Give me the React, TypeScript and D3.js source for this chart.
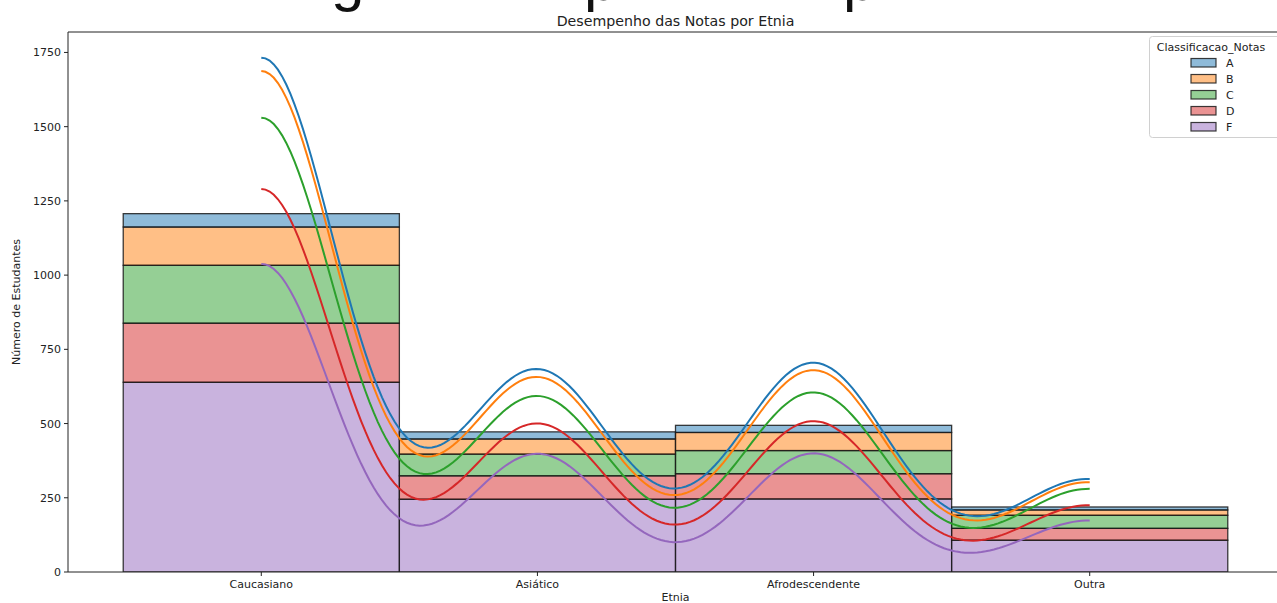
import React from "react";
import * as d3 from "d3";

// ---- data ----
const categories = ["Caucasiano", "Asiático", "Afrodescendente", "Outra"];
const grades = ["A", "B", "C", "D", "F"];
const countsA = [45, 24, 24, 10];
const countsB = [129, 51, 61, 18];
const countsC = [195, 73, 78, 44];
const countsD = [199, 79, 85, 40];
const countsF = [639, 245, 246, 107];
const yTicks = [0, 250, 500, 750, 1000, 1250, 1500, 1750];
const gradeColors = ["#1f77b4", "#ff7f0e", "#2ca02c", "#d62728", "#9467bd"];

const W = 1277;
const H = 603;
const M = { left: 68, right: 1283, top: 32, bottom: 572 };
const FONT = "DejaVu Sans";

// gaussian KDE (Scott's rule), scaled to counts -- same statistic as seaborn histplot(kde=True)
function kde(counts: number[]) {
  const n = d3.sum(counts);
  const mean = d3.sum(counts, (c, i) => c * i) / n;
  const variance = d3.sum(counts, (c, i) => c * (i - mean) ** 2) / (n - 1);
  const bw = Math.pow(n, -0.2) * Math.sqrt(variance);
  const norm = bw * Math.sqrt(2 * Math.PI);
  return (v: number) =>
    d3.sum(counts, (c, i) => (c * Math.exp(-0.5 * ((v - i) / bw) ** 2)) / norm);
}

export default function App() {
  const series = [countsA, countsB, countsC, countsD, countsF];
  // stack from bottom: F, D, C, B, A
  const order = [4, 3, 2, 1, 0];
  const grid = d3.range(200).map((i) => (3 * i) / 199);

  const bars: { g: number; cat: number; y0: number; y1: number }[] = [];
  categories.forEach((_, ci) => {
    let acc = 0;
    order.forEach((g) => {
      const v = series[g][ci];
      bars.push({ g, cat: ci, y0: acc, y1: acc + v });
      acc += v;
    });
  });

  const curves: { g: number; pts: [number, number][] }[] = [];
  const accK = grid.map(() => 0);
  order.forEach((g) => {
    const f = kde(series[g]);
    const pts: [number, number][] = grid.map((v, i) => {
      accK[i] += f(v);
      return [v, accK[i]];
    });
    curves.push({ g, pts });
  });

  const yMax = (d3.max(accK) as number) * 1.05;
  const x = d3.scaleLinear().domain([-0.7, 3.7]).range([M.left, M.right]);
  const y = d3.scaleLinear().domain([0, yMax]).range([M.bottom, M.top]);
  const line = d3
    .line<[number, number]>()
    .x((d) => x(d[0]))
    .y((d) => y(d[1]));

  const legendRows = grades.map((g, i) => ({ g, i }));

  return (
    <svg
      width={W}
      height={H}
      style={{ position: "absolute", left: 0, top: 0, background: "#fff" }}
      fontFamily={FONT}
    >
      <defs>
        <clipPath id="axclip">
          <rect x={M.left} y={M.top} width={M.right - M.left} height={M.bottom - M.top} />
        </clipPath>
      </defs>
      <rect x={0} y={0} width={W} height={H} fill="#fff" />

      {/* cut-off figure heading (only descenders visible in the reference) */}
      <g fontFamily="Liberation Sans" fontSize={60} fill="#111">
        <text x={331} y={0}>g</text>
        <text x={584} y={0}>p</text>
        <text x={843} y={0}>p</text>
      </g>

      {/* title */}
      <text x={(M.left + M.right) / 2} y={26} textAnchor="middle" fontSize={14.2} fill="#222">
        Desempenho das Notas por Etnia
      </text>

      <g clipPath="url(#axclip)">
        {bars.map((b, i) => (
          <rect
            key={i}
            x={x(b.cat - 0.5)}
            y={y(b.y1)}
            width={x(b.cat + 0.5) - x(b.cat - 0.5)}
            height={y(b.y0) - y(b.y1)}
            fill={gradeColors[b.g]}
            fillOpacity={0.5}
            stroke="#1a1a1a"
            strokeOpacity={0.85}
            strokeWidth={1.3}
          />
        ))}
        {curves.map((c) => (
          <path
            key={c.g}
            d={line(c.pts) as string}
            fill="none"
            stroke={gradeColors[c.g]}
            strokeWidth={2}
          />
        ))}
      </g>

      {/* spines */}
      <g stroke="#222" strokeWidth={1} fill="none">
        <line x1={M.left} x2={M.left} y1={M.top} y2={M.bottom} />
        <line x1={M.left} x2={M.right} y1={M.bottom} y2={M.bottom} />
        <line x1={M.left} x2={M.right} y1={M.top} y2={M.top} />
        <line x1={M.right} x2={M.right} y1={M.top} y2={M.bottom} />
      </g>

      {/* y axis */}
      {yTicks.map((t) => (
        <g key={t}>
          <line x1={M.left - 4} x2={M.left} y1={y(t)} y2={y(t)} stroke="#222" />
          <text x={M.left - 7} y={y(t) + 4} textAnchor="end" fontSize={11} fill="#222">
            {t}
          </text>
        </g>
      ))}
      <text
        transform={`translate(20, ${(M.top + M.bottom) / 2}) rotate(-90)`}
        textAnchor="middle"
        fontSize={11}
        fill="#222"
      >
        Número de Estudantes
      </text>

      {/* x axis */}
      {categories.map((c, i) => (
        <g key={c}>
          <line x1={x(i)} x2={x(i)} y1={M.bottom} y2={M.bottom + 4} stroke="#222" />
          <text x={x(i)} y={M.bottom + 16} textAnchor="middle" fontSize={11} fill="#222">
            {c}
          </text>
        </g>
      ))}
      <text x={(M.left + M.right) / 2} y={601} textAnchor="middle" fontSize={11} fill="#222">
        Etnia
      </text>

      {/* legend */}
      <g>
        <rect x={1149.5} y={36.5} width={140} height={101} rx={3} fill="#fff" fillOpacity={0.8} stroke="#d0d0d0" />
        <text x={1211} y={51} textAnchor="middle" fontSize={11} fill="#222">
          Classificacao_Notas
        </text>
        {legendRows.map((r) => (
          <g key={r.g}>
            <rect
              x={1191}
              y={58.5 + r.i * 16}
              width={25}
              height={8.5}
              fill={gradeColors[r.i]}
              fillOpacity={0.5}
              stroke="#1a1a1a"
              strokeOpacity={0.85}
              strokeWidth={1.2}
            />
            <text x={1226} y={67 + r.i * 16} fontSize={11} fill="#222">
              {r.g}
            </text>
          </g>
        ))}
      </g>
    </svg>
  );
}
